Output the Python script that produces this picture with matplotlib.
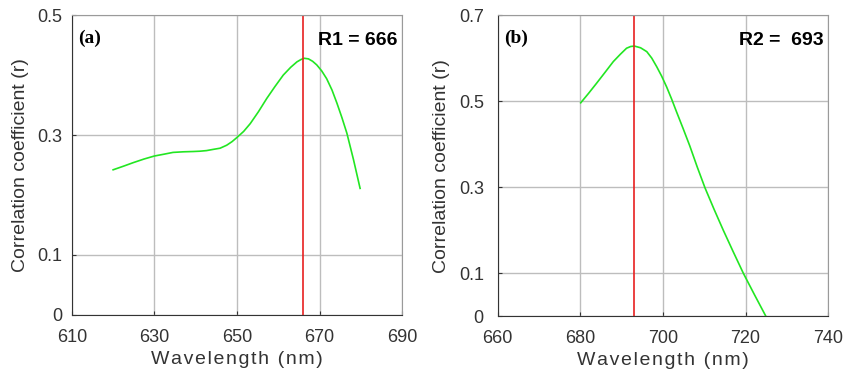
import numpy as np
import matplotlib
matplotlib.use("Agg")
from matplotlib import pyplot as plt

# panel (a) - red edge region 1
wl_a = [620, 622.5, 624.9, 627.5, 630, 632.3, 634.5, 637, 639.4, 641.0, 642.6, 644.2,
        645.9, 647.5, 648.8, 650, 651.6, 653.2, 655.2, 657.2, 659.2, 661.2, 663.0, 664.5,
        665.5, 666.3, 667.3, 668.3, 669.3, 670.5, 671.7, 673.0, 674.2, 675.4, 676.6,
        678.2, 679.8]
r_a = [0.242, 0.248, 0.254, 0.260, 0.265, 0.268, 0.271, 0.272, 0.2725, 0.273, 0.274, 0.276,
       0.278, 0.283, 0.289, 0.296, 0.306, 0.319, 0.339, 0.361, 0.381, 0.400, 0.413, 0.422,
       0.426, 0.428, 0.427, 0.423, 0.417, 0.407, 0.394, 0.375, 0.353, 0.329, 0.303,
       0.259, 0.211]
peak_a = 666

# panel (b) - red edge region 2
wl_b = [680.1, 682.0, 683.9, 686.0, 688, 689.7, 691.2, 692.2, 693.1, 694.6, 696.1,
        697.3, 698.5, 699.7, 700.9, 702.1, 703.3, 704.9, 706.5, 708.3, 710.2, 712.4,
        714.6, 717.0, 719.5, 722.2, 724.9]
r_b = [0.496, 0.518, 0.541, 0.567, 0.592, 0.609, 0.623, 0.627, 0.628, 0.624, 0.615,
       0.600, 0.580, 0.558, 0.533, 0.505, 0.475, 0.436, 0.396, 0.347, 0.298, 0.248,
       0.200, 0.150, 0.099, 0.049, 0.0]
peak_b = 693

xticks_a = [610, 630, 650, 670, 690]
yticks_a = [0, 0.1, 0.3, 0.5]
xticks_b = [660, 680, 700, 720, 740]
yticks_b = [0, 0.1, 0.3, 0.5, 0.7]

plt.rcParams['font.family'] = ['Liberation Sans', 'DejaVu Sans']

fig = plt.figure(figsize=(8.45, 3.78), dpi=100)
ax1 = fig.add_axes([0.085, 0.167, 0.391, 0.793])
ax2 = fig.add_axes([0.589, 0.164, 0.391, 0.796])

hs = "\u200a"  # hair space, the original label is a bit letter-spaced
xlab = hs.join("Wavelength (nm)")


def style_axis(ax, xticks, yticks, ylim, ypad):
    ax.set_xlim(xticks[0], xticks[-1])
    ax.set_ylim(*ylim)
    ax.set_xticks(xticks)
    ax.set_yticks(yticks)
    ax.set_yticklabels(["0" if t == 0 else f"{t:g}" for t in yticks])
    ax.grid(True, color="#bdbdbd", linewidth=1.0)
    ax.set_axisbelow(True)
    ax.tick_params(direction="in", length=3, labelsize=13, colors="#333333")
    ax.tick_params(axis="x", pad=10)
    ax.tick_params(axis="y", pad=ypad)
    for side in ["top", "right"]:
        ax.spines[side].set_color("#9a9a9a")
    for side in ["left", "bottom"]:
        ax.spines[side].set_color("#333333")
    ax.set_xlabel(xlab, fontsize=14, color="#333333", labelpad=4)
    ax.set_ylabel("Correlation coefficient (r)", fontsize=14, color="#333333", labelpad=6)


style_axis(ax1, xticks_a, yticks_a, (0, 0.5), 7)
ax1.plot(wl_a, r_a, color="#22e622", linewidth=1.2)
ax1.axvline(peak_a, color="#e82020", linewidth=1.2)
ax1.text(0.02, 0.95, "(a)", transform=ax1.transAxes, fontsize=14, fontweight="bold",
         family=["Liberation Serif"], va="top", ha="left")
ax1.text(0.985, 0.945, f"R1 = {peak_a}", transform=ax1.transAxes, fontsize=14,
         fontweight="bold", va="top", ha="right")

style_axis(ax2, xticks_b, yticks_b, (0, 0.7), 10)
ax2.plot(wl_b, r_b, color="#22e622", linewidth=1.2)
ax2.axvline(peak_b, color="#e82020", linewidth=1.2)
ax2.text(0.02, 0.95, "(b)", transform=ax2.transAxes, fontsize=14, fontweight="bold",
         family=["Liberation Serif"], va="top", ha="left")
ax2.text(0.985, 0.945, f"R2 =  {peak_b}", transform=ax2.transAxes, fontsize=14,
         fontweight="bold", va="top", ha="right")

fig.savefig("out.png", dpi=100)
